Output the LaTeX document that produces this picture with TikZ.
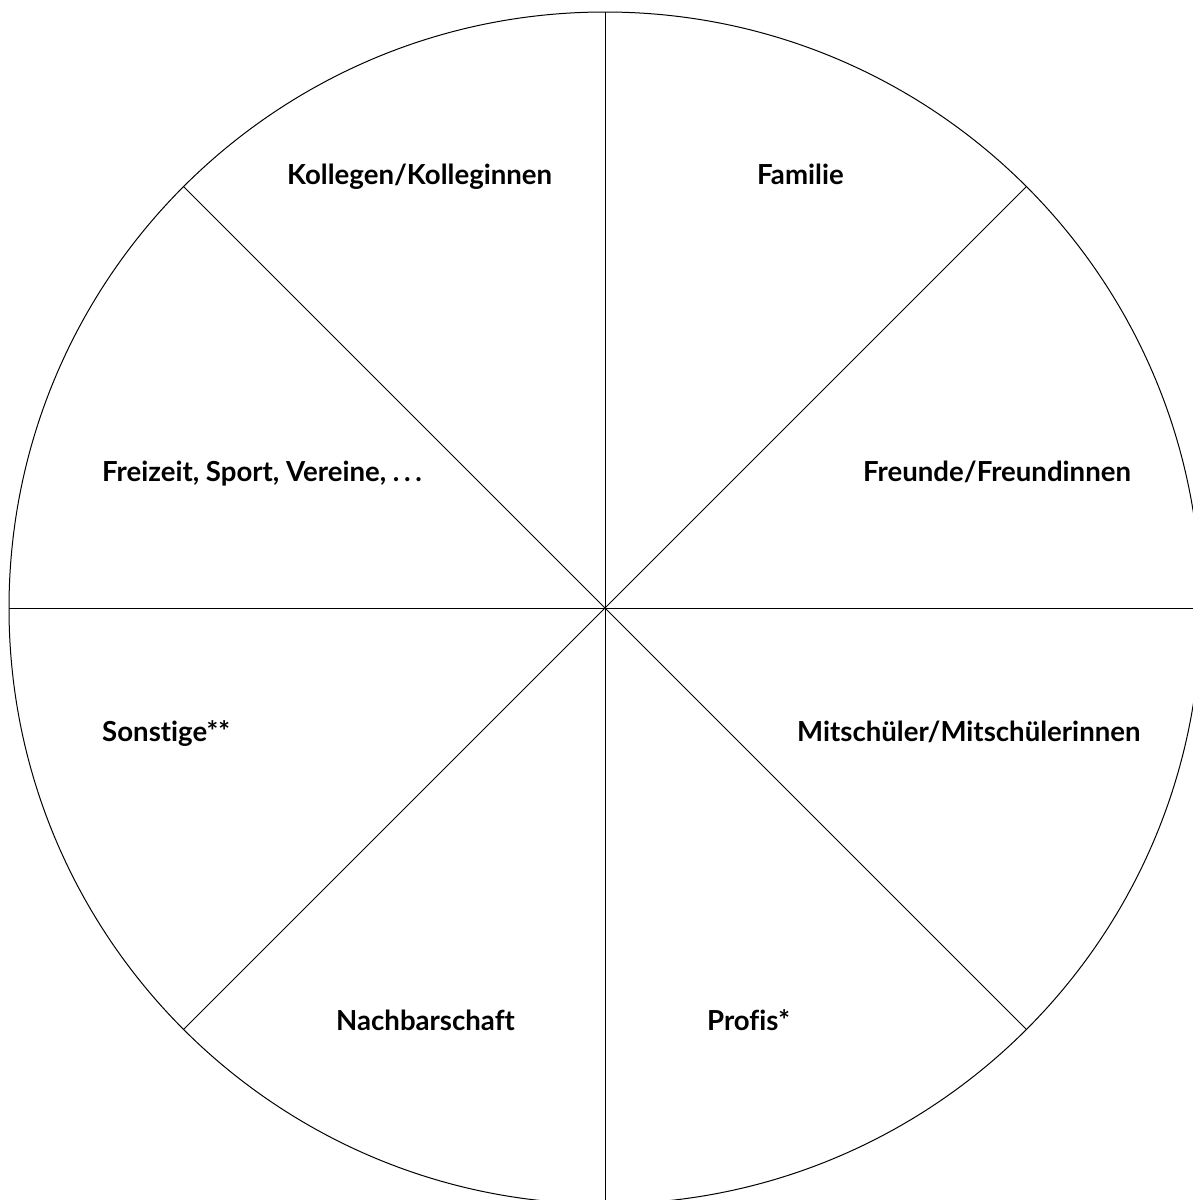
\documentclass[tikz,border=0pt]{standalone}
\usepackage{fontspec}
\setmainfont{Lato}[Ligatures=NoCommon]
\usetikzlibrary{calc}
\begin{document}
\begin{tikzpicture}
  [x=1pt,y=-1pt,
   sector/.style=
     {font=\bfseries\fontsize{27.6}{32}\selectfont,anchor=base west,inner sep=0pt},
   spoke/.style=
     {line width=1pt}
  ]
  \useasboundingbox (0,0) rectangle (1193,1200);
  \clip (0,0) rectangle (1193,1200);
  \coordinate (c) at (605,608);
  \draw[spoke] (c) circle [radius=596pt];
  \foreach \a in {0,45,...,315}
  {
    \coordinate (r\a) at ($(c)+(\a:596pt)$);
    \draw[spoke] (c) -- (r\a);
  }
  % labels, one per sector
  \node[sector] (kollegen) at (287,184) {Kollegen/Kolleginnen};
  \node[sector] (familie) at (757,184) {Familie};
  \node[sector] (freizeit) at (102,481) {Freizeit, Sport, Vereine, .\,.\,.};
  \node[sector] (freunde) at (863,481) {Freunde/Freundinnen};
  \node[sector] (sonstige) at (102,741) {Sonstige**};
  \node[sector] (mitschueler) at (797,741) {Mitschüler/Mitschülerinnen};
  \node[sector] (nachbarn) at (336,1030) {Nachbarschaft};
  \node[sector] (profis) at (707,1030) {Profis*};
\end{tikzpicture}
\end{document}
